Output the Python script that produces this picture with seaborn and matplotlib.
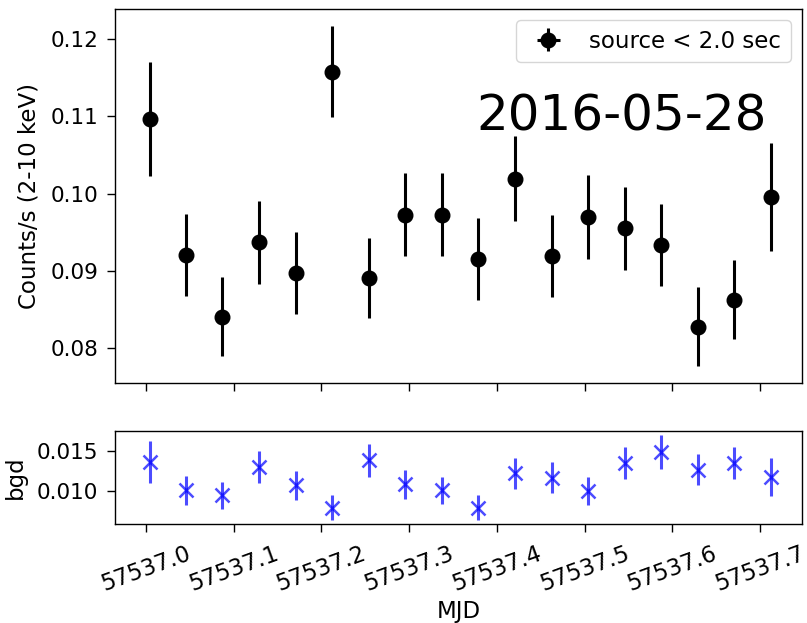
import numpy as np
import matplotlib
matplotlib.use("Agg")
import matplotlib.pyplot as plt
import seaborn as sns
from matplotlib.ticker import MultipleLocator, FormatStrFormatter

# Time bins (MJD)
mjd = [57537.0046, 57537.0456, 57537.0867, 57537.1288, 57537.1710, 57537.2121,
       57537.2543, 57537.2953, 57537.3375, 57537.3786, 57537.4208, 57537.4629,
       57537.5040, 57537.5462, 57537.5872, 57537.6294, 57537.6705, 57537.7127]

# Source count rate and errors
src_rate = [0.1097, 0.0921, 0.0841, 0.0937, 0.0897, 0.1158, 0.0891, 0.0973, 0.0973,
            0.0915, 0.1019, 0.0919, 0.0970, 0.0955, 0.0933, 0.0828, 0.0863, 0.0996]
src_err = [0.0074, 0.0053, 0.0051, 0.0054, 0.0053, 0.0059, 0.0052, 0.0054, 0.0054,
           0.0053, 0.0055, 0.0053, 0.0054, 0.0054, 0.0053, 0.0051, 0.0051, 0.0070]
mjd_err = [0.0] * len(mjd)

# Background rate and errors
bgd_rate = [0.01360, 0.01009, 0.00947, 0.01295, 0.01070, 0.00795, 0.01377, 0.01082, 0.01009,
            0.00795, 0.01217, 0.01164, 0.01000, 0.01348, 0.01479, 0.01262, 0.01348, 0.01172]
bgd_err = [0.0026, 0.0018, 0.0017, 0.0020, 0.0018, 0.0015, 0.0020, 0.0018, 0.0017,
           0.0015, 0.0019, 0.0019, 0.0017, 0.0020, 0.0021, 0.0019, 0.0020, 0.0023]

date_label = "2016-05-28"
legend_label = "source < 2.0 sec"

sns.set_style("ticks")
plt.rcParams.update({"font.size": 16.5, "axes.labelsize": 16.5,
                     "xtick.labelsize": 16.3, "ytick.labelsize": 15.5,
                     "legend.fontsize": 16.5, "axes.formatter.useoffset": False,
                     "xtick.direction": "out", "ytick.direction": "out",
                     "text.color": "black", "axes.labelcolor": "black",
                     "xtick.color": "black", "ytick.color": "black",
                     "axes.edgecolor": "black"})
plt.rcParams["font.family"] = ["DejaVu Sans"]

fig = plt.figure(figsize=(8.07, 6.23), dpi=100)
ax1 = fig.add_axes([0.1425, 0.3852, 0.8513, 0.6004])
ax2 = fig.add_axes([0.1425, 0.1589, 0.8513, 0.1493], sharex=ax1)

# top panel: source light curve
ax1.errorbar(mjd, src_rate, yerr=src_err, xerr=mjd_err, fmt="o", color="black",
             markersize=10.5, elinewidth=2.2, capsize=0, label=legend_label)
ax1.set_ylabel("Counts/s (2-10 keV)", labelpad=7)
ax1.yaxis.set_major_locator(MultipleLocator(0.01))
ax1.tick_params(labelbottom=False)
ax1.legend(loc="upper right")
ax1.text(0.526, 0.676, date_label, transform=ax1.transAxes, fontsize=36,
         va="baseline", family=["DejaVu Sans"])

# bottom panel: background
ax2.errorbar(mjd, bgd_rate, yerr=bgd_err, fmt="x", color="blue", alpha=0.7,
             markersize=10, markeredgewidth=1.8, elinewidth=2.2, capsize=0)
ax2.set_ylabel("bgd", labelpad=7)
ax2.set_xlabel("MJD", labelpad=3)
ax2.set_xlim(57536.9647, 57537.7479)
ax2.yaxis.set_major_locator(MultipleLocator(0.005))
ax2.xaxis.set_major_locator(MultipleLocator(0.1))
ax2.yaxis.set_major_formatter(FormatStrFormatter("%.3f"))
for lab in ax2.get_xticklabels():
    lab.set_rotation(20)

for ax in (ax1, ax2):
    for sp in ax.spines.values():
        sp.set_linewidth(1.0)
    ax.tick_params(length=6, width=1, pad=6)
ax2.tick_params(axis="x", pad=7)

fig.savefig("out.png", dpi=100)
